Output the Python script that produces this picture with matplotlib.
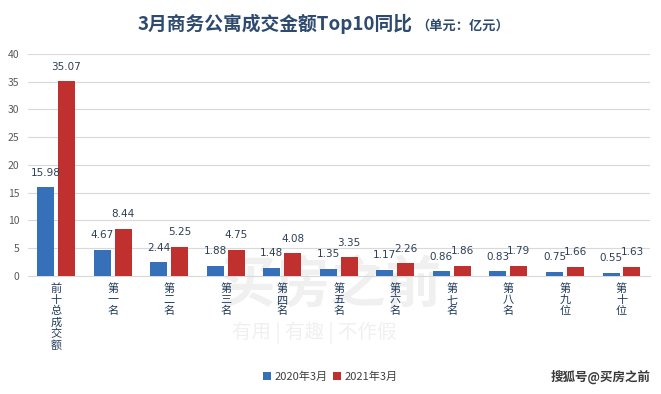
import matplotlib.pyplot as plt
import numpy as np

plt.rcParams['font.family'] = ['Noto Sans CJK SC', 'DejaVu Sans']

categories = ['前十总成交额', '第一名', '第二名', '第三名', '第四名', '第五名',
              '第六名', '第七名', '第八名', '第九位', '第十位']
values_2020 = [15.98, 4.67, 2.44, 1.88, 1.48, 1.35, 1.17, 0.86, 0.83, 0.75, 0.55]
values_2021 = [35.07, 8.44, 5.25, 4.75, 4.08, 3.35, 2.26, 1.86, 1.79, 1.66, 1.63]
series_names = ['2020年3月', '2021年3月']

blue = '#3570b8'
red = '#c0302f'
label_color = '#2e3f55'

fig = plt.figure(figsize=(6.61, 3.94), dpi=100)
ax = fig.add_axes([0.042, 0.2995, 0.941, 0.5635])
ax.set_facecolor('none')

x = np.arange(len(categories))
w = 0.3
off = 0.185
b1 = ax.bar(x - off, values_2020, w, color=blue, label=series_names[0], zorder=3)
b2 = ax.bar(x + off, values_2021, w, color=red, label=series_names[1], zorder=3)

for bars, vals in ((b1, values_2020), (b2, values_2021)):
    for rect, v in zip(bars, vals):
        ax.annotate('%.2f' % v, (rect.get_x() + rect.get_width() / 2, v),
                    xytext=(0, 7), textcoords='offset points', ha='center',
                    va='bottom', fontsize=7.5, color=label_color,
                    family=['DejaVu Sans'], zorder=4)

ax.set_xlim(-0.5, len(categories) - 0.5)
ax.set_ylim(0, 40)
ax.set_yticks(range(0, 41, 5))
ax.tick_params(axis='y', length=0, labelsize=7.5, labelcolor='#595959', pad=6)
ax.tick_params(axis='x', length=0, pad=5)
ax.set_xticks(x)
ax.set_xticklabels(['\n'.join(c) for c in categories], fontsize=8,
                   color='#1f3b5a', linespacing=1.15, va='top')
ax.grid(axis='y', color='#d9d9d9', linewidth=0.8, zorder=0)
for s in ['top', 'right', 'left']:
    ax.spines[s].set_visible(False)
ax.spines['bottom'].set_color('#d9d9d9')

# faint watermark behind the axes
fig.text(0.5, 0.277, '买房之前', fontsize=40, color='#f0f0f0', ha='center',
         va='center', zorder=-1, fontweight='bold')
fig.text(0.475, 0.155, '有用 | 有趣 | 不作假', fontsize=14, color='#f0f0f0',
         ha='center', va='center', zorder=-1)

fig.text(0.416, 0.94, '3月商务公寓成交金额Top10同比', fontsize=13.5,
         fontweight='bold', color='#2e4a6e', ha='center', va='center')
fig.text(0.70, 0.936, '（单元：亿元）', fontsize=9.5, fontweight='bold',
         color='#2e4a6e', ha='center', va='center')

fig.legend(loc='center', bbox_to_anchor=(0.5, 0.043), ncol=2, frameon=False,
           fontsize=8, handlelength=0.7, handleheight=0.7, handletextpad=0.3,
           columnspacing=0.5, labelcolor='#404040')

fig.text(0.985, 0.043, '搜狐号@买房之前', fontsize=9, fontweight='bold',
         color='#3a3a3a', ha='right', va='center')

fig.savefig('out.png', dpi=100)
